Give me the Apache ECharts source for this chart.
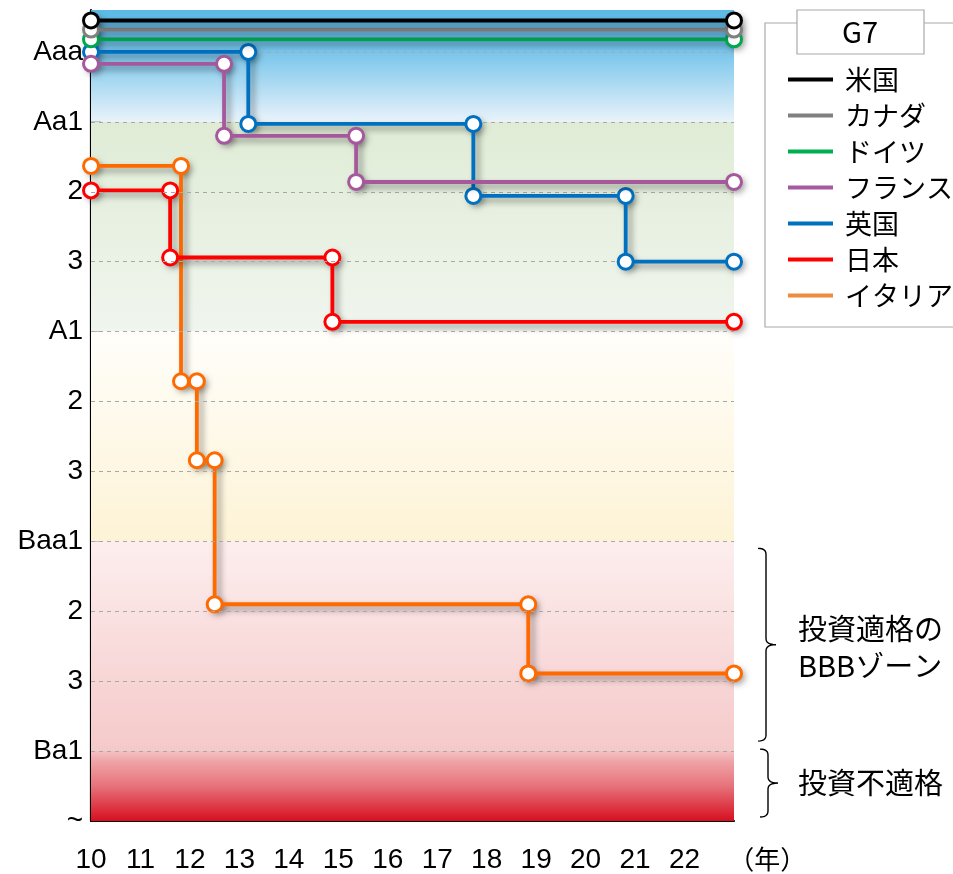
<!DOCTYPE html>
<html>
<head>
<meta charset="utf-8">
<script src="https://cdn.jsdelivr.net/npm/echarts@6/dist/echarts.min.js"></script>
<style>
html,body{margin:0;padding:0;background:#fff;}
#chart{width:953px;height:874px;}
</style>
</head>
<body>
<div id="chart"></div>
<script>
// ---- data ----
const ratingLabels = ['Aaa','Aa1','2','3','A1','2','3','Baa1','2','3','Ba1','~'];
const ratingLevels = [0,1,2,3,4,5,6,7,8,9,10,11];
const gridLevels = [0,1,2,3,4,5,6,7,8,9,10];
const tickLevels = [0,1,2,3,4,5,6,7,8,9,10];
const zoneBounds = [-0.6, 1, 4, 7, 10, 11];
const yearTicks = [10,11,12,13,14,15,16,17,18,19,20,21,22];

const usX = [10, 23];
const usY = [-0.45, -0.45];
const caX = [10, 23];
const caY = [-0.32, -0.32];
const deX = [10, 23];
const deY = [-0.18, -0.18];
const frX = [10, 12.69, 12.69, 15.36, 15.36, 23];
const frY = [0.17, 0.17, 1.2, 1.2, 1.86, 1.86];
const ukX = [10, 13.18, 13.18, 17.73, 17.73, 20.81, 20.81, 23];
const ukY = [0, 0, 1.03, 1.03, 2.06, 2.06, 3.0, 3.0];
const jpX = [10, 11.6, 11.6, 14.88, 14.88, 23];
const jpY = [1.98, 1.98, 2.94, 2.94, 3.86, 3.86];
const itX = [10, 11.82, 11.82, 12.14, 12.14, 12.5, 12.5, 18.84, 18.84, 23];
const itY = [1.63, 1.63, 4.71, 4.71, 5.84, 5.84, 7.9, 7.9, 8.89, 8.89];

const names = ['米国','カナダ','ドイツ','フランス','英国','日本','イタリア'];
const colors = ['#000000','#808080','#00a650','#a5589c','#0070c0','#ff0000','#ff6a00'];
const legendColors = ['#000000','#808080','#00b050','#a55aa0','#0070c0','#ff0000','#ed8b3f'];

const zoneColors = [
  [[0,'#5cb9e6'],[0.35,'#74c3ea'],[1,'#e9f3fb']],
  [[0,'#e0ecd6'],[1,'#f0f5ee']],
  [[0,'#fffefa'],[1,'#fdf3d6']],
  [[0,'#fdeeee'],[1,'#f5c9c9']],
  [[0,'#f4c2c3'],[0.15,'#efa3a7'],[0.5,'#e6737b'],[1,'#d70f20']]
];

const FONT_LAT = 'Liberation Sans, Arial, sans-serif';
const FONT_JP = '"Noto Sans CJK JP", sans-serif';

const chart = echarts.init(document.getElementById('chart'), null, {renderer:'canvas'});

function pairs(xs, ys){ return xs.map((x,i)=>[x, ys[i]]); }

function lineSeries(idx, xs, ys, width, z){
  const c = colors[idx];
  return {
    type:'line', name:names[idx], data:pairs(xs, ys), z:z,
    symbol:'circle', symbolSize:15, showAllSymbol:true,
    lineStyle:{color:c, width:width, shadowColor:'rgba(0,0,0,0.4)', shadowBlur:6, shadowOffsetX:4, shadowOffsetY:4},
    itemStyle:{color:'#ffffff', borderColor:c, borderWidth:3},
    emphasis:{disabled:true}, silent:true, animation:false
  };
}

const allPoints = [].concat(
  pairs(itX, itY), pairs(jpX, jpY), pairs(ukX, ukY), pairs(frX, frY),
  pairs(deX, deY), pairs(caX, caY), pairs(usX, usY)
);

// soft drop-shadows under the markers
const markerShadowSeries = {
  type:'scatter', name:'shadow', data:allPoints, z:2, silent:true, animation:false,
  symbol:'circle', symbolSize:16,
  itemStyle:{color:'#ffffff', shadowColor:'rgba(0,0,0,0.45)', shadowBlur:6, shadowOffsetX:3, shadowOffsetY:3},
  emphasis:{disabled:true}
};

const bgSeries = {
  type:'line', name:'bg', data:[[10,-0.6]], showSymbol:false, silent:true, z:1,
  lineStyle:{opacity:0}, animation:false,
  markArea:{
    silent:true,
    data: zoneColors.map((stops,i)=>[
      {yAxis:zoneBounds[i], itemStyle:{color:{type:'linear',x:0,y:0,x2:0,y2:1,
        colorStops:stops.map(s=>({offset:s[0],color:s[1]}))}}},
      {yAxis:zoneBounds[i+1]}
    ])
  },
  markLine:{
    silent:true, symbol:['none','none'], label:{show:false},
    lineStyle:{type:[4,4], color:'#a8a8a8', width:1},
    emphasis:{disabled:true},
    data: gridLevels.map(v=>({yAxis:v}))
  }
};

const option = {
  backgroundColor:'#ffffff',
  animation:false,
  grid:{left:91, right:219, top:10, bottom:52, containLabel:false},
  xAxis:{
    type:'value', min:10, max:23, interval:1,
    axisLine:{show:true, onZero:false, lineStyle:{color:'#000', width:2.2}},
    axisTick:{show:false},
    splitLine:{show:false},
    axisLabel:{
      customValues: yearTicks,
      fontSize:28, color:'#000', fontFamily:FONT_LAT, margin:25,
      formatter:(v)=>String(v)
    }
  },
  yAxis:{
    type:'value', inverse:true, min:-0.6, max:11,
    axisLine:{show:true, onZero:false, lineStyle:{color:'#000', width:2.2}},
    axisTick:{show:true, inside:true, length:10, customValues:tickLevels, lineStyle:{color:'#000', width:2}},
    splitLine:{show:false},
    axisLabel:{
      customValues: ratingLevels,
      fontSize:28, color:'#000', fontFamily:FONT_LAT, margin:8,
      formatter:(v)=>ratingLabels[Math.round(v)]
    }
  },
  legend:{
    orient:'vertical', left:765, top:23,
    padding:[43,40,18,23], itemGap:9,
    borderColor:'#aaaaaa', borderWidth:1.2,
    icon:'rect', itemWidth:45, itemHeight:4,
    textStyle:{fontSize:27, color:'#000', fontFamily:FONT_JP, padding:[0,0,0,7]},
    selectedMode:false,
    data: names.map((n,i)=>({name:n, itemStyle:{color:legendColors[i], borderWidth:0}}))
  },
  series:[
    bgSeries,
    markerShadowSeries,
    lineSeries(6, itX, itY, 3.8, 3),
    lineSeries(5, jpX, jpY, 3.8, 4),
    lineSeries(4, ukX, ukY, 3.8, 5),
    lineSeries(3, frX, frY, 3.8, 6),
    lineSeries(2, deX, deY, 3.8, 7),
    lineSeries(1, caX, caY, 3.8, 8),
    lineSeries(0, usX, usY, 4.2, 9)
  ]
};
chart.setOption(option);

// ---- annotations positioned via the chart's scales ----
function py(v){ return chart.convertToPixel({gridIndex:0}, [10, v])[1]; }
function pxv(v){ return chart.convertToPixel({gridIndex:0}, [v, 0])[0]; }

function quad(p0, p1, p2, n){
  const out = [];
  for (let i=1;i<=n;i++){
    const t=i/n, a=(1-t)*(1-t), b=2*(1-t)*t, c=t*t;
    out.push([a*p0[0]+b*p1[0]+c*p2[0], a*p0[1]+b*p1[1]+c*p2[1]]);
  }
  return out;
}
function bracePoints(x0, x1, x2, top, bottom){
  const mid=(top+bottom)/2, r=6;
  let pts=[[x0,top]];
  pts=pts.concat(quad([x0,top],[x1,top],[x1,top+r],6));
  pts.push([x1,mid-r]);
  pts=pts.concat(quad([x1,mid-r],[x1,mid],[x2,mid],6));
  pts=pts.concat(quad([x2,mid],[x1,mid],[x1,mid+r],6));
  pts.push([x1,bottom-r]);
  pts=pts.concat(quad([x1,bottom-r],[x1,bottom],[x0,bottom],6));
  return pts;
}

const b1top = py(7)+7, b1bot = py(10)-10;
const b2top = py(10)-2, b2bot = py(11)-4;
const axisBottom = py(11);

chart.setOption({
  graphic:[
    {type:'rect', z:100, shape:{x:797, y:10, width:127, height:44},
      style:{fill:'#ffffff', stroke:'#aaaaaa', lineWidth:1.2}},
    {type:'text', z:101, x:860, y:32,
      style:{text:'G7', fontSize:29, fontFamily:FONT_JP, fill:'#000', align:'center', verticalAlign:'middle'}},
    {type:'polyline', z:100, shape:{points:bracePoints(758, 766, 776, b1top, b1bot)},
      style:{fill:null, stroke:'#000', lineWidth:1.4}},
    {type:'polyline', z:100, shape:{points:bracePoints(760, 768, 778, b2top, b2bot)},
      style:{fill:null, stroke:'#000', lineWidth:1.4}},
    {type:'text', z:100, x:798, y:(b1top+b1bot)/2 - 16,
      style:{text:'投資適格の', fontSize:29, fontFamily:FONT_JP, fill:'#000', align:'left', verticalAlign:'middle'}},
    {type:'text', z:100, x:798, y:(b1top+b1bot)/2 + 21,
      style:{text:'BBBゾーン', fontSize:29, fontFamily:FONT_JP, fill:'#000', align:'left', verticalAlign:'middle'}},
    {type:'text', z:100, x:798, y:(b2top+b2bot)/2,
      style:{text:'投資不適格', fontSize:29, fontFamily:FONT_JP, fill:'#000', align:'left', verticalAlign:'middle'}},
    {type:'text', z:100, x:pxv(23.67), y:axisBottom+38,
      style:{text:'（年）', fontSize:26, fontFamily:FONT_JP, fill:'#000', align:'center', verticalAlign:'middle'}}
  ]
});
</script>
</body>
</html>
